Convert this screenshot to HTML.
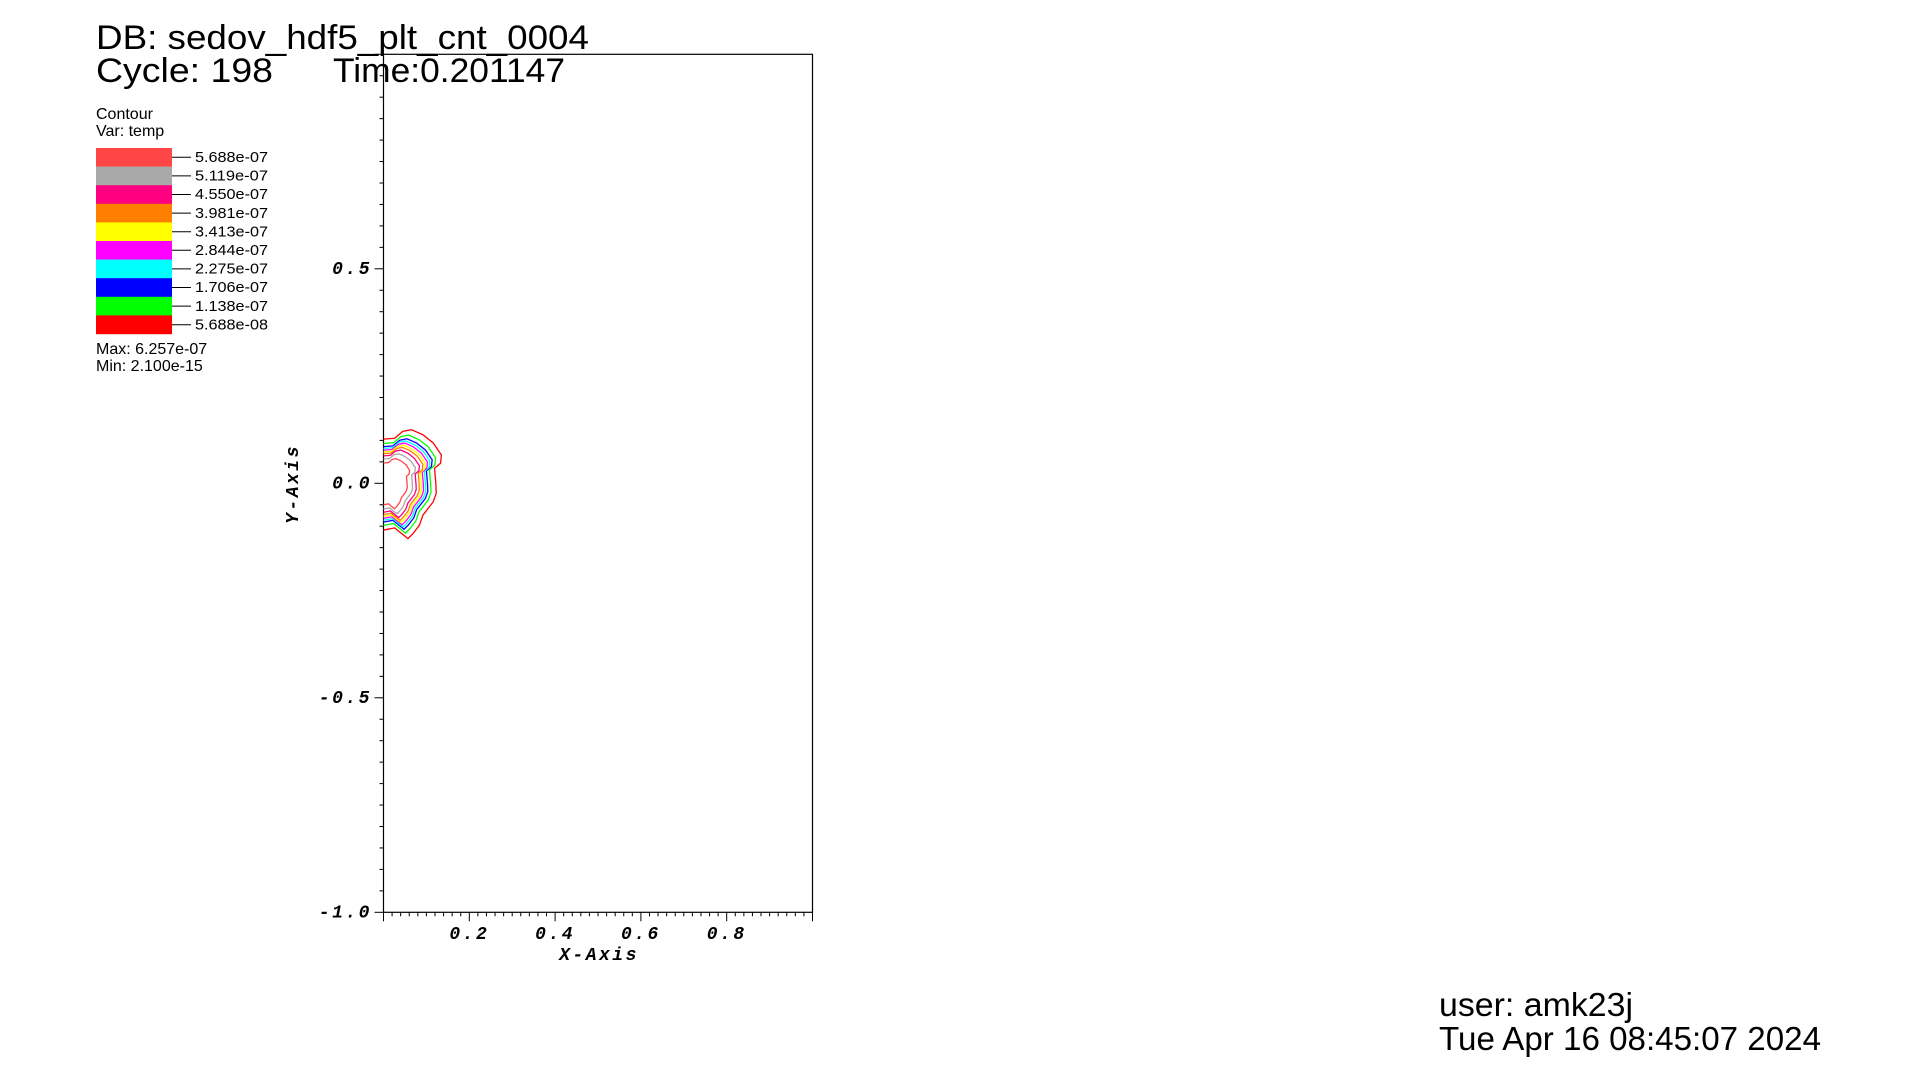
<!DOCTYPE html>
<html><head><meta charset="utf-8"><style>
html,body{margin:0;padding:0;background:#fff;}
body{width:1920px;height:1072px;overflow:hidden;position:relative;}
svg{position:absolute;left:0;top:0;}
.t{font-family:"Liberation Sans","DejaVu Sans",sans-serif;fill:#000;}
.m{font-family:"Liberation Mono",monospace;font-weight:bold;font-style:italic;fill:#000;font-size:18px;letter-spacing:2.5px;}
</style></head><body>
<svg id="chart" width="1920" height="1072">
<text class="t" x="96" y="49" font-size="34" textLength="493" lengthAdjust="spacingAndGlyphs">DB: sedov_hdf5_plt_cnt_0004</text>
<text class="t" x="96" y="82" font-size="34" textLength="177" lengthAdjust="spacingAndGlyphs">Cycle: 198</text>
<text class="t" x="333" y="82" font-size="34" textLength="232" lengthAdjust="spacingAndGlyphs">Time:0.201147</text>
<text class="t" x="96" y="119" font-size="16">Contour</text>
<text class="t" x="96" y="136" font-size="16">Var: temp</text>
<text class="t" x="96" y="354" font-size="16">Max: 6.257e-07</text>
<text class="t" x="96" y="371" font-size="16">Min: 2.100e-15</text>
<text class="t" x="1439" y="1016" font-size="33" textLength="194" lengthAdjust="spacingAndGlyphs">user: amk23j</text>
<text class="t" x="1439" y="1050" font-size="33" textLength="382" lengthAdjust="spacingAndGlyphs">Tue Apr 16 08:45:07 2024</text>
<g id="legend"></g>
<g id="axes"></g>
<g id="contours"></g>
</svg>
<script>
const levelLabels=["5.688e-07","5.119e-07","4.550e-07","3.981e-07","3.413e-07","2.844e-07","2.275e-07","1.706e-07","1.138e-07","5.688e-08"];
const levelColors=["#ff4646","#a8a8a8","#ff0080","#ff8000","#ffff00","#ff00ff","#00ffff","#0000ff","#00ff00","#ff0000"];
// outer contour (data units)
const outerX=[0,0.026,0.045,0.065,0.092,0.116,0.135,0.133,0.119,0.122,0.123,0.116,0.092,0.084,0.069,0.057,0.037,0.026,0];
const outerY=[0.103,0.105,0.121,0.125,0.113,0.094,0.066,0.047,0.035,0.0,-0.023,-0.043,-0.074,-0.097,-0.117,-0.129,-0.113,-0.104,-0.109];
// per-level shrink factors (outer red -> inner light red), read visually
const levelSX=[1,0.9,0.84,0.8,0.76,0.72,0.68,0.62,0.55,0.45];
const levelSY=[1,0.9,0.83,0.79,0.75,0.71,0.67,0.62,0.55,0.46];
const levelOrder=[9,8,7,6,5,4,3,2,1,0];
const xTicks=[0.2,0.4,0.6,0.8];
const yTicks=[0.5,0.0,-0.5,-1.0];
const yTickLabels=["0.5","0.0","-0.5","-1.0"];

const NS="http://www.w3.org/2000/svg";
const X0=383.5,Y0=483.3,U=429;
function sx(v){return X0+v*U;}
function sy(v){return Y0-v*U;}
function mk(t,a,p){const e=document.createElementNS(NS,t);for(const k in a)e.setAttribute(k,a[k]);p.appendChild(e);return e;}

const leg=document.getElementById('legend');
levelLabels.forEach((lab,i)=>{
  const y=148+i*18.6;
  const r=mk('rect',{x:96,y:y,width:76,height:18.8,fill:levelColors[i]},leg);
  
  
  const l=mk('line',{x1:172,y1:y+9.3,x2:191,y2:y+9.3,stroke:'#000','stroke-width':1},leg);
  
  
  const t=mk('text',{x:195,y:y+14,'font-size':15,class:'t',textLength:73,lengthAdjust:'spacingAndGlyphs'},leg);
  t.textContent=lab;
  
  
});

const ax=document.getElementById('axes');
const box=mk('rect',{x:sx(0),y:sy(1),width:U,height:2*U,fill:'none',stroke:'#000','stroke-width':1.2},ax);


for(let i=0;i<=40;i++){
  const v=1-i*0.05;const maj=(i%10===0);
  const tk=mk('line',{x1:sx(0)-(maj?9:4),y1:sy(v),x2:sx(0),y2:sy(v),stroke:'#000','stroke-width':1},ax);
  
  
}
for(let i=0;i<=50;i++){
  const v=i*0.02;const maj=(i%10===0);
  const tk=mk('line',{x1:sx(v),y1:sy(-1),x2:sx(v),y2:sy(-1)+(maj?9:4),stroke:'#000','stroke-width':1},ax);
  
  
}
yTicks.forEach((v,i)=>{
  const t=mk('text',{x:372,y:sy(v)+5,'text-anchor':'end',class:'m'},ax);
  t.textContent=yTickLabels[i];
  
  
});
xTicks.forEach(v=>{
  const t=mk('text',{x:sx(v),y:939,'text-anchor':'middle',class:'m'},ax);
  t.textContent=v.toFixed(1);
  
  
});
const xl=mk('text',{x:599,y:960,'text-anchor':'middle',class:'m'},ax);
xl.textContent='X-Axis';


const yl=mk('text',{x:0,y:0,'text-anchor':'middle',class:'m',transform:'translate(298,484) rotate(-90)'},ax);
yl.textContent='Y-Axis';



const cg=document.getElementById('contours');
levelOrder.forEach(li=>{
  const k=levelOrder.indexOf(li);
  const pts=outerX.map((x,j)=>sx(x*levelSX[k])+','+sy(outerY[j]*levelSY[k])).join(' ');
  const p=mk('polyline',{points:pts,fill:'none',stroke:levelColors[li],'stroke-width':1.3},cg);
  
  
});
</script>
</body></html>
